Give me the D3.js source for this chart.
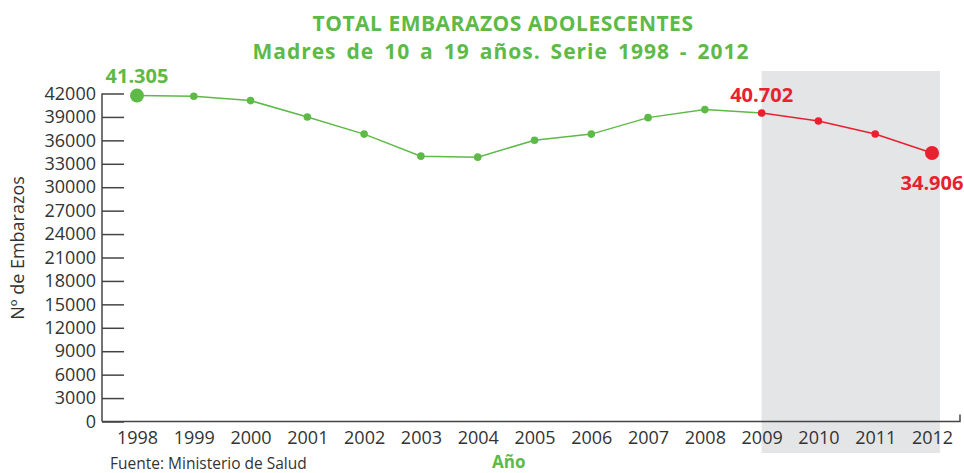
<!DOCTYPE html>
<html>
<head>
<meta charset="utf-8">
<script src="https://cdn.jsdelivr.net/npm/d3@7"></script>
<style>
  body { margin: 0; background: #fff; }
  svg { display: block; font-family: "Open Sans", sans-serif; }
</style>
</head>
<body>
<div id="chart"></div>
<script>
// datos
const years = [1998, 1999, 2000, 2001, 2002, 2003, 2004, 2005, 2006, 2007, 2008, 2009, 2010, 2011, 2012];
const births = [41730, 41640, 41090, 38990, 36800, 33980, 33850, 36020, 36800, 38910, 39940, 39500, 38480, 36810, 34380];
const yTicks = d3.range(0, 42001, 3000);
const labels = [
    { year: 1998, text: "41.305", color: "#5dba47", dy: -13 },
    { year: 2009, text: "40.702", color: "#e8202f", dy: -11 },
    { year: 2012, text: "34.906", color: "#e8202f", dy: 37 }
];
const splitYear = 2009;

const width = 964, height = 473;
const green = "#5dba47", red = "#e8202f";

const svg = d3.select("#chart").append("svg")
    .attr("width", width)
    .attr("height", height);

const x = d3.scaleLinear().domain([1998, 2012]).range([137, 932]);
const y = d3.scaleLinear().domain([0, 42000]).range([421.5, 93.5]);
const step = x(1999) - x(1998);

// zona proyectada (gris)
svg.append("rect")
    .attr("x", x(splitYear))
    .attr("y", 71)
    .attr("width", x(2012) + step * 0.14 - x(splitYear))
    .attr("height", 453 - 71)
    .attr("fill", "#e4e5e7");

// titulo
svg.append("text")
    .attr("x", 503).attr("y", 30.5)
    .attr("text-anchor", "middle")
    .attr("fill", green)
    .attr("font-size", 21).attr("font-weight", "bold")
    .attr("letter-spacing", 0.5)
    .text("TOTAL EMBARAZOS ADOLESCENTES");
svg.append("text")
    .attr("x", 501).attr("y", 59)
    .attr("text-anchor", "middle")
    .attr("fill", green)
    .attr("font-size", 21).attr("font-weight", "bold")
    .attr("letter-spacing", 1)
    .attr("word-spacing", 3.5)
    .text("Madres de 10 a 19 años. Serie 1998 - 2012");

// eje Y
const yAxis = svg.append("g")
    .attr("transform", "translate(102,0)")
    .call(d3.axisRight(y).tickValues(yTicks).tickSize(22).tickFormat(d3.format("d")));
yAxis.select(".domain").remove();
yAxis.selectAll(".tick line").attr("stroke", "#444").attr("stroke-width", 1.5);
yAxis.selectAll(".tick text")
    .attr("x", -6)
    .attr("text-anchor", "end")
    .attr("fill", "#333")
    .attr("font-size", 18)
    .attr("font-family", "Open Sans");
svg.append("line")
    .attr("x1", 102).attr("x2", 102)
    .attr("y1", y(42000)).attr("y2", y(0))
    .attr("stroke", "#444").attr("stroke-width", 1.5);

// eje X
const xAxis = svg.append("g")
    .attr("transform", `translate(0,${y(0)})`)
    .call(d3.axisBottom(x).tickValues(years).tickSize(0).tickFormat(d3.format("d")));
xAxis.select(".domain").remove();
xAxis.selectAll(".tick text")
    .attr("y", 10)
    .attr("dy", "0.71em")
    .attr("fill", "#333")
    .attr("font-size", 18)
    .attr("font-family", "Open Sans");
svg.append("path")
    .attr("d", `M102,${y(0)}H960V${y(0) - 7}`)
    .attr("fill", "none")
    .attr("stroke", "#444").attr("stroke-width", 1.5);

// titulos de ejes
svg.append("text")
    .attr("transform", "translate(24,248) rotate(-90)")
    .attr("text-anchor", "middle")
    .attr("fill", "#333")
    .attr("font-size", 18)
    .text("Nº de Embarazos");
svg.append("text")
    .attr("x", 110).attr("y", 469)
    .attr("fill", "#333")
    .attr("font-size", 15.5)
    .text("Fuente: Ministerio de Salud");
svg.append("text")
    .attr("x", 492).attr("y", 468)
    .attr("fill", green)
    .attr("font-size", 17).attr("font-weight", "bold")
    .text("Año");

// lineas
const data = years.map((yr, i) => ({ year: yr, value: births[i] }));
const line = d3.line().x(d => x(d.year)).y(d => y(d.value));
const before = data.filter(d => d.year <= splitYear);
const after = data.filter(d => d.year >= splitYear);

svg.append("path").datum(before)
    .attr("d", line).attr("fill", "none")
    .attr("stroke", green).attr("stroke-width", 1.5);
svg.append("path").datum(after)
    .attr("d", line).attr("fill", "none")
    .attr("stroke", red).attr("stroke-width", 1.5);

svg.selectAll("circle.pt").data(data).enter()
    .append("circle")
    .attr("class", "pt")
    .attr("cx", d => x(d.year))
    .attr("cy", d => y(d.value))
    .attr("r", d => (d.year === 1998 || d.year === 2012) ? 7 : 3.8)
    .attr("fill", d => d.year >= splitYear ? red : green);

// etiquetas de valor
labels.forEach(l => {
    const d = data.find(p => p.year === l.year);
    svg.append("text")
        .attr("x", x(l.year))
        .attr("y", y(d.value) + l.dy)
        .attr("text-anchor", "middle")
        .attr("fill", l.color)
        .attr("font-size", 20).attr("font-weight", "bold")
        .text(l.text);
});
</script>
</body>
</html>
